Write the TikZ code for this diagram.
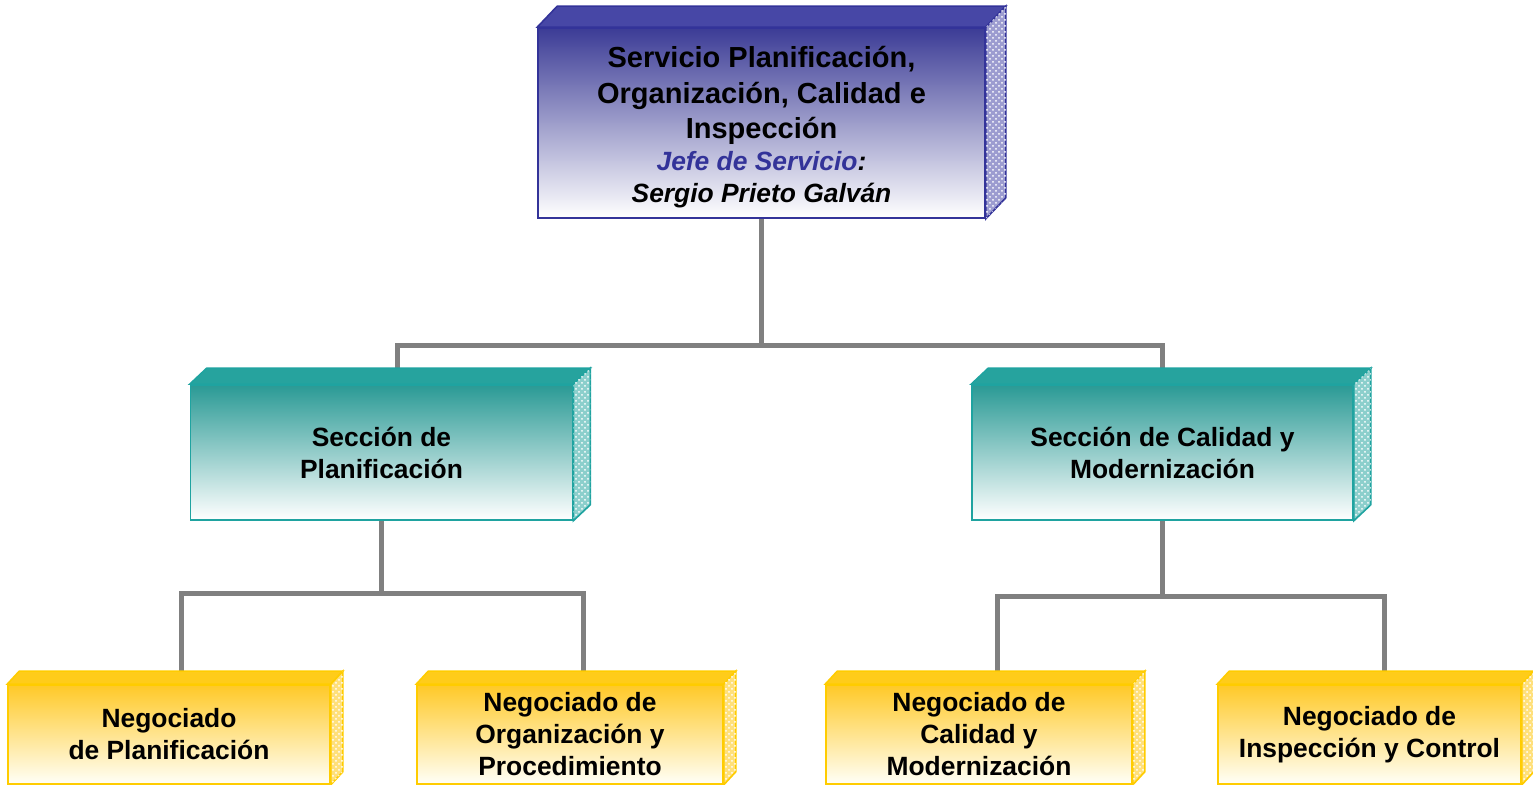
\documentclass[tikz,border=0pt]{standalone}
\usepackage{fontspec}
\setmainfont{Liberation Sans}
\usetikzlibrary{patterns,backgrounds,calc}

\definecolor{jefeline}{HTML}{333399}
\definecolor{jefetop}{HTML}{3C3C96}
\definecolor{jefeface}{HTML}{4747A6}
\definecolor{jefeside}{HTML}{9C9CD0}
\definecolor{secline}{HTML}{1FA3A0}
\definecolor{sectop}{HTML}{2A9A95}
\definecolor{secface}{HTML}{26A39E}
\definecolor{secside}{HTML}{8CCFCC}
\definecolor{negline}{HTML}{FFCC00}
\definecolor{negtop}{HTML}{FFC927}
\definecolor{negface}{HTML}{FFCC1A}
\definecolor{negside}{HTML}{FFE07A}
\definecolor{linegray}{HTML}{808080}

\tikzset{
every node/.style={align=center},
jefe box/.style={draw=jefeline, line width=0.8pt, top color=jefetop, bottom color=white,
  minimum width=223.5pt, minimum height=95pt, font=\bfseries\fontsize{14.5}{17.75}\selectfont},
sec box/.style={draw=secline, line width=0.8pt, top color=sectop, bottom color=white,
  minimum width=191pt, minimum height=67.5pt, font=\bfseries\fontsize{13.2}{16}\selectfont},
neg box/.style={draw=negline, line width=0.8pt, top color=negtop, bottom color=white!97!yellow,
  minimum width=153pt, minimum height=49.5pt, font=\bfseries\fontsize{13.2}{16}\selectfont},
conn/.style={draw=linegray, line width=2.5pt},
}
\newcommand{\jefeline}[1]{{\fontsize{13.2}{16.25}\selectfont\itshape #1}}

\begin{document}
\begin{tikzpicture}[x=0.5pt, y=-0.5pt]

    \useasboundingbox (0,0) rectangle (1533,785);

    \node[jefe box] (jefe) at (761.5,123) {\rule{0pt}{15pt}Servicio Planificación,\\Organización, Calidad e\\Inspección\\[-2pt]
        \jefeline{\textcolor{jefeline}{Jefe de Servicio}:}\\[-1.5pt]\jefeline{Sergio Prieto Galván}};

    \node[sec box] (plan) at (381.5,452.5) {Sección de\\Planificación};
    \node[sec box, minimum width=190.5pt] (calidad) at (1162.5,452.5) {Sección de Calidad y\\Modernización};

    \node[neg box, minimum width=161pt] (negplan) at (169,734.5) {Negociado\\de Planificación};
    \node[neg box] (negorg) at (570,734.5) {Negociado de\\Organización y\\Procedimiento};
    \node[neg box] (negcal) at (979,734.5) {Negociado de\\Calidad y\\Modernización};
    \node[neg box, minimum width=151.5pt] (negins) at (1369.5,734.5) {Negociado de\\Inspección y Control};

    % top and side faces
    \foreach \n/\dx/\dy/\fc/\sc/\lc in {jefe/20/-21/jefeface/jefeside/jefeline,
        plan/17/-16/secface/secside/secline, calidad/17/-16/secface/secside/secline,
        negplan/12/-13/negface/negside/negline, negorg/12/-13/negface/negside/negline,
        negcal/12/-13/negface/negside/negline, negins/12/-13/negface/negside/negline} {
        \filldraw[fill=\fc, draw=\lc, line width=0.8pt] (\n.north west) -- ++(\dx,\dy)
            -- ($(\n.north east)+(\dx,\dy)$) -- (\n.north east) -- cycle;
        \filldraw[fill=\sc, draw=\lc, line width=0.8pt] (\n.north east) -- ++(\dx,\dy)
            -- ($(\n.south east)+(\dx,\dy)$) -- (\n.south east) -- cycle;
        \fill[pattern=crosshatch dots, pattern color=white] (\n.north east) -- ++(\dx,\dy)
            -- ($(\n.south east)+(\dx,\dy)$) -- (\n.south east) -- cycle;
    }

    \begin{scope}[on background layer]
        \draw[conn] (jefe.south) -- ++(0,127) -| ([xshift=7.75pt]plan.north);
        \draw[conn] (jefe.south) -- ++(0,127) -| (calidad.north);
        \draw[conn] (plan.south) -- ++(0,73) -| ([xshift=6pt]negplan.north);
        \draw[conn] (plan.south) -- ++(0,73) -| ([xshift=6.5pt]negorg.north);
        \draw[conn] (calidad.south) -- ++(0,76) -| ([xshift=9pt]negcal.north);
        \draw[conn] (calidad.south) -- ++(0,76) -| ([xshift=7.25pt]negins.north);
    \end{scope}

\end{tikzpicture}
\end{document}
